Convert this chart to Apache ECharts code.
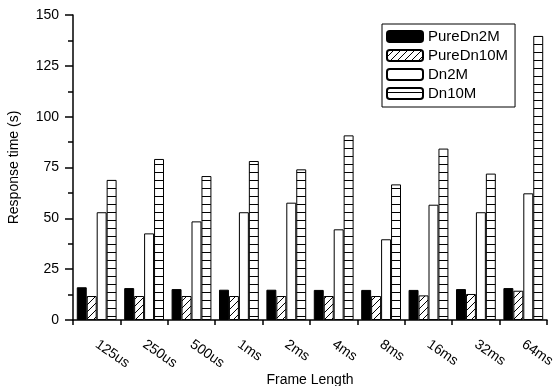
<!DOCTYPE html>
<html>
<head>
<meta charset="utf-8">
<script src="https://cdn.jsdelivr.net/npm/echarts@6/dist/echarts.min.js"></script>
<style>
  html, body { margin: 0; padding: 0; background: #fff; }
</style>
</head>
<body>
<div id="chart" style="width: 555px; height: 386px;"></div>
<script>
// frame lengths on the x axis
const frameLengths = ['125us', '250us', '500us', '1ms', '2ms', '4ms', '8ms', '16ms', '32ms', '64ms'];
// response time in seconds
const pureDn2M = [16.1, 15.7, 15.2, 14.9, 14.9, 14.8, 14.8, 14.8, 15.2, 15.7];
const pureDn10M = [11.8, 11.8, 11.8, 11.8, 11.8, 11.8, 11.8, 12.1, 12.8, 14.4];
const dn2M = [53, 42.6, 48.5, 53, 57.7, 44.6, 39.7, 56.7, 53, 62.3];
const dn10M = [68.9, 79.2, 70.8, 78.2, 74.1, 90.8, 66.7, 84.3, 72, 139.7];

// hatch pattern "/"
function makeHatch() {
  const c = document.createElement('canvas');
  c.width = 7; c.height = 7;
  const ctx = c.getContext('2d');
  ctx.fillStyle = '#fff';
  ctx.fillRect(0, 0, 7, 7);
  ctx.strokeStyle = '#000';
  ctx.lineWidth = 1;
  ctx.beginPath();
  ctx.moveTo(-1, 8); ctx.lineTo(8, -1);
  ctx.stroke();
  return c;
}
// horizontal stripes
function makeStripes() {
  const c = document.createElement('canvas');
  c.width = 8; c.height = 8;
  const ctx = c.getContext('2d');
  ctx.fillStyle = '#fff';
  ctx.fillRect(0, 0, 8, 8);
  ctx.fillStyle = '#000';
  ctx.fillRect(0, 4, 8, 1);
  return c;
}

const font = 'Liberation Sans, Arial, sans-serif';
const chart = echarts.init(document.getElementById('chart'));

function barSeries(name, data, color) {
  return {
    name: name,
    type: 'bar',
    data: data,
    barGap: '0%',
    barCategoryGap: '16%',
    itemStyle: {
      color: color,
      borderColor: '#000',
      borderWidth: 1
    }
  };
}

const option = {
  animation: false,
  textStyle: { fontFamily: font },
  grid: { left: 73, right: 8, top: 15, bottom: 66, outerBoundsMode: 'none' },
  legend: {
    orient: 'vertical',
    left: 382,
    top: 24,
    padding: [5, 7, 6, 4],
    itemWidth: 36,
    itemHeight: 11,
    itemGap: 4,
    borderColor: '#000',
    borderWidth: 1,
    textStyle: { fontFamily: font, fontSize: 15, color: '#000' },
    data: ['PureDn2M', 'PureDn10M', 'Dn2M', 'Dn10M']
  },
  xAxis: [
    {
      type: 'category',
      data: frameLengths,
      name: 'Frame Length',
      nameLocation: 'middle',
      nameGap: 53,
      nameMoveOverlap: false,
      nameTextStyle: { fontSize: 14, color: '#000', fontFamily: font },
      axisLine: { lineStyle: { color: '#000', width: 1.5 } },
      axisTick: { alignWithLabel: true, length: 7, lineStyle: { color: '#000', width: 1.5 } },
      axisLabel: { rotate: -35, margin: 23, fontSize: 14, color: '#000', fontFamily: font },
      splitLine: { show: false }
    },
    {
      // short ticks at the group boundaries
      type: 'value',
      position: 'bottom',
      min: 0,
      max: 10,
      interval: 1,
      axisLine: { show: false },
      axisTick: { show: true, length: 5, lineStyle: { color: '#000', width: 1.5 } },
      axisLabel: { show: false },
      splitLine: { show: false }
    }
  ],
  yAxis: {
    type: 'value',
    min: 0,
    max: 150,
    interval: 25,
    name: 'Response time (s)',
    nameLocation: 'middle',
    nameGap: 52,
    nameMoveOverlap: false,
    nameTextStyle: { fontSize: 14, color: '#000', fontFamily: font },
    axisLine: { show: true, lineStyle: { color: '#000', width: 1.5 } },
    axisTick: { show: true, length: 8, lineStyle: { color: '#000', width: 1.5 } },
    minorTick: { show: true, splitNumber: 2, length: 5, lineStyle: { color: '#000', width: 1.5 } },
    axisLabel: { fontSize: 14, color: '#000', margin: 14, fontFamily: font },
    splitLine: { show: false },
    minorSplitLine: { show: false }
  },
  series: [
    barSeries('PureDn2M', pureDn2M, '#000'),
    barSeries('PureDn10M', pureDn10M, { image: makeHatch(), repeat: 'repeat' }),
    barSeries('Dn2M', dn2M, '#fff'),
    barSeries('Dn10M', dn10M, { image: makeStripes(), repeat: 'repeat' })
  ]
};
chart.setOption(option);
</script>
</body>
</html>
